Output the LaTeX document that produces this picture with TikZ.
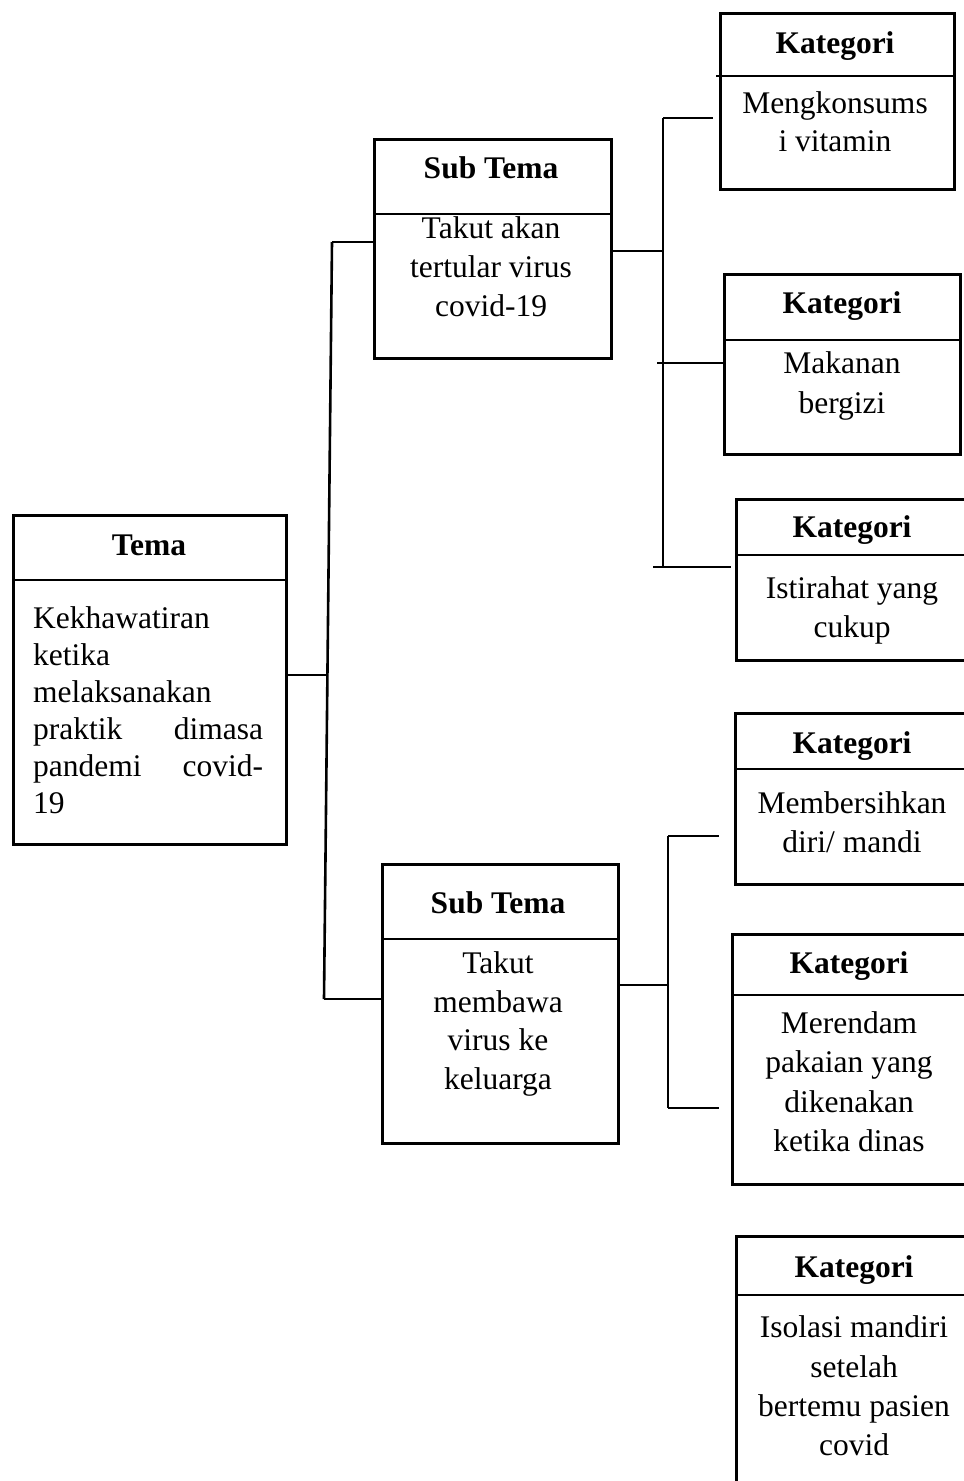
\documentclass[tikz,border=0pt]{standalone}
\usepackage{fontspec}
\setmainfont{Liberation Serif}
\begin{document}
\begin{tikzpicture}[x=1pt,y=-1pt,
  box/.style={draw, line width=2.6pt, inner sep=0pt, anchor=north west},
  ln/.style={line width=2.6pt},
  txt/.style={anchor=base, inner sep=0pt, font=\fontsize{31.5}{38}\selectfont},
  hd/.style={anchor=base, inner sep=0pt, font=\fontsize{31.5}{38}\selectfont\bfseries},
  lt/.style={anchor=base west, inner sep=0pt, font=\fontsize{31.5}{38}\selectfont}]
\clip (0,0) rectangle (964,1481);
\fill[white] (0,0) rectangle (964,1481);

% boxes
\node[box, minimum width=273pt, minimum height=329pt] (tema) at (12,514) {};
\node[box, minimum width=237pt, minimum height=219pt] (s1) at (373,138) {};
\node[box, minimum width=236pt, minimum height=279pt] (s2) at (381,863) {};
\node[box, minimum width=234pt, minimum height=176pt] (k1) at (719,12) {};
\node[box, minimum width=236pt, minimum height=180pt] (k2) at (723,273) {};
\node[box, minimum width=236pt, minimum height=161pt] (k3) at (735,498) {};
\node[box, minimum width=238pt, minimum height=171pt] (k4) at (734,712) {};
\node[box, minimum width=238pt, minimum height=250pt] (k5) at (731,933) {};
\node[box, minimum width=238pt, minimum height=300pt] (k6) at (735,1235) {};

% dividers
\draw[ln] (tema.west |- 0,580) -- (tema.east |- 0,580);
\draw[ln] (s1.west |- 0,214) -- (s1.east |- 0,214);
\draw[ln] (s2.west |- 0,939) -- (s2.east |- 0,939);
\draw[ln] ([xshift=-3pt]k1.west |- 0,76) -- (k1.east |- 0,76);
\draw[ln] (k2.west |- 0,340) -- (k2.east |- 0,340);
\draw[ln] (k3.west |- 0,555) -- (k3.east |- 0,555);
\draw[ln] (k4.west |- 0,769) -- (k4.east |- 0,769);
\draw[ln] (k5.west |- 0,995) -- (k5.east |- 0,995);
\draw[ln] (k6.west |- 0,1295) -- (k6.east |- 0,1295);

% texts
\node[hd] (temah) at (149,555) {Tema};
\node[lt] (temab1) at (33,628) {Kekhawatiran};
\node[lt] (temab2) at (33,665) {ketika};
\node[lt] (temab3) at (33,702) {melaksanakan};
\node[lt] (temab4) at (33,739) {\makebox[230pt][s]{praktik dimasa}};
\node[lt] (temab5) at (33,776) {\makebox[230pt][s]{pandemi covid-}};
\node[lt] (temab6) at (33,813) {19};

\node[hd] (s1h) at (491,178) {Sub Tema};
\node[txt] (s1b1) at (491,238) {Takut akan};
\node[txt] (s1b2) at (491,277) {tertular virus};
\node[txt] (s1b3) at (491,316) {covid-19};

\node[hd] (s2h) at (498,913) {Sub Tema};
\node[txt] (s2b1) at (498,973) {Takut};
\node[txt] (s2b2) at (498,1012) {membawa};
\node[txt] (s2b3) at (498,1050) {virus ke};
\node[txt] (s2b4) at (498,1089) {keluarga};

\node[hd] (k1h) at (835,53) {Kategori};
\node[txt] (k1b1) at (835,113) {Mengkonsums};
\node[txt] (k1b2) at (835,151) {i vitamin};

\node[hd] (k2h) at (842,313) {Kategori};
\node[txt] (k2b1) at (842,373) {Makanan};
\node[txt] (k2b2) at (842,413) {bergizi};

\node[hd] (k3h) at (852,537) {Kategori};
\node[txt] (k3b1) at (852,598) {Istirahat yang};
\node[txt] (k3b2) at (852,637) {cukup};

\node[hd] (k4h) at (852,753) {Kategori};
\node[txt] (k4b1) at (852,813) {Membersihkan};
\node[txt] (k4b2) at (852,852) {diri/ mandi};

\node[hd] (k5h) at (849,973) {Kategori};
\node[txt] (k5b1) at (849,1033) {Merendam};
\node[txt] (k5b2) at (849,1072) {pakaian yang};
\node[txt] (k5b3) at (849,1112) {dikenakan};
\node[txt] (k5b4) at (849,1151) {ketika dinas};

\node[hd] (k6h) at (854,1277) {Kategori};
\node[txt] (k6b1) at (854,1337) {Isolasi mandiri};
\node[txt] (k6b2) at (854,1377) {setelah};
\node[txt] (k6b3) at (854,1416) {bertemu pasien};
\node[txt] (k6b4) at (854,1455) {covid};

% trunk coordinates
\coordinate (ta) at (332,242);
\coordinate (tb) at (324,999);
\coordinate (tm) at (325.5,675);
\coordinate (ua) at (663,118);
\coordinate (ub) at (663,567);
\coordinate (va) at (668,836);
\coordinate (vb) at (668,1108);

% connectors: tema -> sub temas
\draw[ln] (tema.east |- tm) -- (tm);
\draw[ln] (ta) -- (tb);
\draw[ln] (ta) -- (s1.west |- ta);
\draw[ln] (tb) -- (s2.west |- tb);

% sub tema 1 -> kategori 1-3
\draw[ln] (s1.east |- 0,251) -- (ua |- 0,251);
\draw[ln] (ua) -- (ub);
\draw[ln] (ua) -- ([xshift=-6pt]k1.west |- ua);
\draw[ln] (657,363) -- (k2.west |- 0,363);
\draw[ln] (653,567) -- ([xshift=-4pt]k3.west |- ub);

% sub tema 2 -> kategori 4-5
\draw[ln] (s2.east |- 0,985) -- (va |- 0,985);
\draw[ln] (va) -- (vb);
\draw[ln] (va) -- ([xshift=-15pt]k4.west |- va);
\draw[ln] (vb) -- ([xshift=-12pt]k5.west |- vb);
\end{tikzpicture}
\end{document}
